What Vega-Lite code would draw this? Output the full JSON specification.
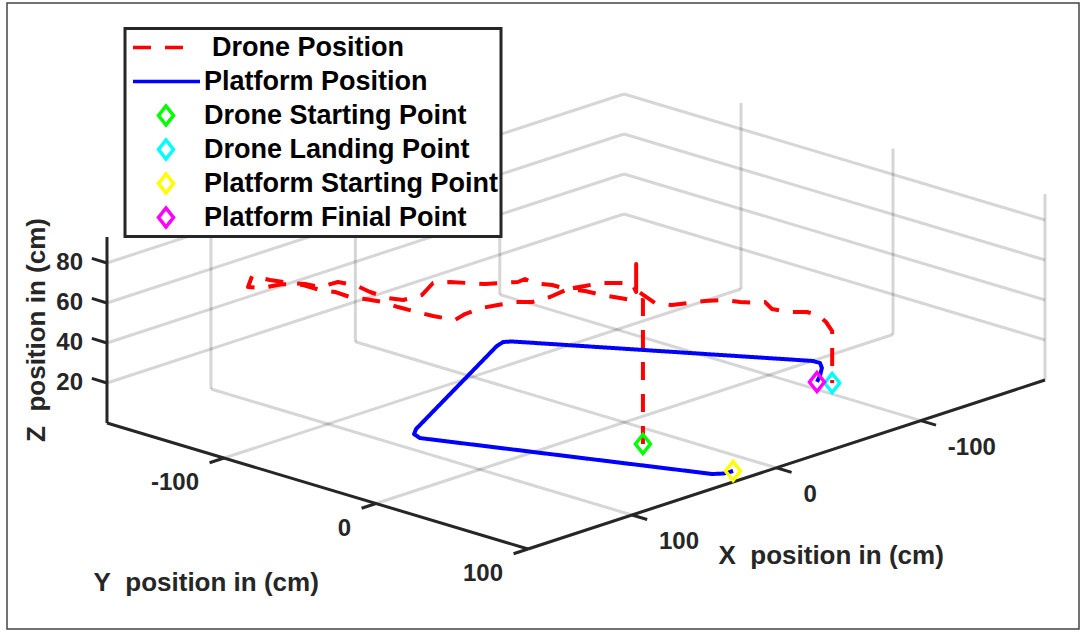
{
  "$schema": "https://vega.github.io/schema/vega-lite/v6.json",
  "width": 1072,
  "height": 626,
  "autosize": "none",
  "padding": {"left": 7, "top": 3, "right": 5, "bottom": 4},
  "background": "#ffffff",
  "config": {
    "view": {"stroke": "#444444", "strokeWidth": 1.5},
    "legend": {
      "orient": "none",
      "legendX": 118,
      "legendY": 25.5,
      "padding": 2,
      "strokeColor": "#262626",
      "fillColor": "#ffffff",
      "labelFont": "Liberation Sans",
      "labelFontWeight": "bold",
      "labelFontSize": 27,
      "labelColor": "#000000",
      "labelLimit": 600,
      "labelOffset": 21,
      "symbolOffset": 22,
      "symbolSize": 900,
      "symbolStrokeWidth": 3.5,
      "symbolOpacity": 1,
      "rowPadding": 0
    }
  },
  "datasets": {
    "grid": [
      {"x": 100, "y": -177, "z": 0, "x2": 100, "y2": 100, "z2": 0},
      {"x": 0, "y": -177, "z": 0, "x2": 0, "y2": 100, "z2": 0},
      {"x": -100, "y": -177, "z": 0, "x2": -100, "y2": 100, "z2": 0},
      {"x": -186, "y": -100, "z": 0, "x2": 172, "y2": -100, "z2": 0},
      {"x": -186, "y": 0, "z": 0, "x2": 172, "y2": 0, "z2": 0},
      {"x": -186, "y": 100, "z": 0, "x2": 172, "y2": 100, "z2": 0},
      {"x": 100, "y": -177, "z": 0, "x2": 100, "y2": -177, "z2": 93},
      {"x": 0, "y": -177, "z": 0, "x2": 0, "y2": -177, "z2": 93},
      {"x": -100, "y": -177, "z": 0, "x2": -100, "y2": -177, "z2": 93},
      {"x": -186, "y": -177, "z": 20, "x2": 172, "y2": -177, "z2": 20},
      {"x": -186, "y": -177, "z": 40, "x2": 172, "y2": -177, "z2": 40},
      {"x": -186, "y": -177, "z": 60, "x2": 172, "y2": -177, "z2": 60},
      {"x": -186, "y": -177, "z": 80, "x2": 172, "y2": -177, "z2": 80},
      {"x": -186, "y": -100, "z": 0, "x2": -186, "y2": -100, "z2": 93},
      {"x": -186, "y": 0, "z": 0, "x2": -186, "y2": 0, "z2": 93},
      {"x": -186, "y": 100, "z": 0, "x2": -186, "y2": 100, "z2": 93},
      {"x": -186, "y": -177, "z": 20, "x2": -186, "y2": 100, "z2": 20},
      {"x": -186, "y": -177, "z": 40, "x2": -186, "y2": 100, "z2": 40},
      {"x": -186, "y": -177, "z": 60, "x2": -186, "y2": 100, "z2": 60},
      {"x": -186, "y": -177, "z": 80, "x2": -186, "y2": 100, "z2": 80}
    ],
    "axes": [
      {"x": 172, "y": -177, "z": 0, "x2": 172, "y2": -177, "z2": 93},
      {"x": 172, "y": -177, "z": 0, "x2": 172, "y2": 100, "z2": 0},
      {"x": 172, "y": 100, "z": 0, "x2": -186, "y2": 100, "z2": 0},
      {"x": 100, "y": 100, "z": 0, "x2": 100, "y2": 110, "z2": 0},
      {"x": 0, "y": 100, "z": 0, "x2": 0, "y2": 110, "z2": 0},
      {"x": -100, "y": 100, "z": 0, "x2": -100, "y2": 110, "z2": 0},
      {"x": 172, "y": -100, "z": 0, "x2": 182, "y2": -100, "z2": 0},
      {"x": 172, "y": 0, "z": 0, "x2": 182, "y2": 0, "z2": 0},
      {"x": 172, "y": 100, "z": 0, "x2": 182, "y2": 100, "z2": 0},
      {"x": 172, "y": -177, "z": 20, "x2": 172, "y2": -187, "z2": 20},
      {"x": 172, "y": -177, "z": 40, "x2": 172, "y2": -187, "z2": 40},
      {"x": 172, "y": -177, "z": 60, "x2": 172, "y2": -187, "z2": 60},
      {"x": 172, "y": -177, "z": 80, "x2": 172, "y2": -187, "z2": 80}
    ],
    "tracks": [
      {"series": "Drone Position", "i": 0, "x": 17.9, "y": 29.2, "z": 0},
      {"series": "Drone Position", "i": 1, "x": 17.9, "y": 29.2, "z": 36},
      {"series": "Drone Position", "i": 2, "x": 17.9, "y": 29.2, "z": 72},
      {"series": "Drone Position", "i": 3, "x": 16.5, "y": 23.9, "z": 70},
      {"series": "Drone Position", "i": 4, "x": 18.9, "y": 15.0, "z": 70},
      {"series": "Drone Position", "i": 5, "x": 21.5, "y": 5.6, "z": 70},
      {"series": "Drone Position", "i": 6, "x": 22.6, "y": -4.3, "z": 70},
      {"series": "Drone Position", "i": 7, "x": 26.1, "y": -12.3, "z": 70},
      {"series": "Drone Position", "i": 8, "x": 40.9, "y": -10.1, "z": 70},
      {"series": "Drone Position", "i": 9, "x": 52.4, "y": -11.0, "z": 70},
      {"series": "Drone Position", "i": 10, "x": 57.9, "y": -16.9, "z": 70},
      {"series": "Drone Position", "i": 11, "x": 67.0, "y": -19.6, "z": 70},
      {"series": "Drone Position", "i": 12, "x": 75.5, "y": -22.0, "z": 70},
      {"series": "Drone Position", "i": 13, "x": 87.9, "y": -21.4, "z": 70},
      {"series": "Drone Position", "i": 14, "x": 97.8, "y": -18.6, "z": 70},
      {"series": "Drone Position", "i": 15, "x": 100.6, "y": -30.3, "z": 70},
      {"series": "Drone Position", "i": 16, "x": 101.6, "y": -40.1, "z": 70},
      {"series": "Drone Position", "i": 17, "x": 102.3, "y": -51.8, "z": 70},
      {"series": "Drone Position", "i": 18, "x": 101.7, "y": -62.2, "z": 70},
      {"series": "Drone Position", "i": 19, "x": 104.4, "y": -71.6, "z": 70},
      {"series": "Drone Position", "i": 20, "x": 107.1, "y": -78.8, "z": 70},
      {"series": "Drone Position", "i": 21, "x": 106.5, "y": -89.3, "z": 70},
      {"series": "Drone Position", "i": 22, "x": 109.3, "y": -96.5, "z": 70},
      {"series": "Drone Position", "i": 23, "x": 109.3, "y": -107.5, "z": 70},
      {"series": "Drone Position", "i": 24, "x": 114.9, "y": -115.5, "z": 70},
      {"series": "Drone Position", "i": 25, "x": 126.3, "y": -118.5, "z": 70},
      {"series": "Drone Position", "i": 26, "x": 129.8, "y": -124.3, "z": 70},
      {"series": "Drone Position", "i": 27, "x": 116.3, "y": -134.5, "z": 70},
      {"series": "Drone Position", "i": 28, "x": 114.8, "y": -124.1, "z": 70},
      {"series": "Drone Position", "i": 29, "x": 111.5, "y": -114.1, "z": 70},
      {"series": "Drone Position", "i": 30, "x": 107.6, "y": -107.9, "z": 70},
      {"series": "Drone Position", "i": 31, "x": 106.0, "y": -99.6, "z": 70},
      {"series": "Drone Position", "i": 32, "x": 94.5, "y": -98.7, "z": 70},
      {"series": "Drone Position", "i": 33, "x": 92.1, "y": -89.7, "z": 70},
      {"series": "Drone Position", "i": 34, "x": 94.9, "y": -77.2, "z": 70},
      {"series": "Drone Position", "i": 35, "x": 95.6, "y": -64.7, "z": 70},
      {"series": "Drone Position", "i": 36, "x": 92.8, "y": -57.4, "z": 70},
      {"series": "Drone Position", "i": 37, "x": 81.1, "y": -56.2, "z": 70},
      {"series": "Drone Position", "i": 38, "x": 64.1, "y": -65.0, "z": 70},
      {"series": "Drone Position", "i": 39, "x": 57.4, "y": -60.2, "z": 70},
      {"series": "Drone Position", "i": 40, "x": 52.8, "y": -53.3, "z": 70},
      {"series": "Drone Position", "i": 41, "x": 48.0, "y": -46.1, "z": 70},
      {"series": "Drone Position", "i": 42, "x": 41.9, "y": -42.0, "z": 70},
      {"series": "Drone Position", "i": 43, "x": 34.9, "y": -36.9, "z": 70},
      {"series": "Drone Position", "i": 44, "x": 29.3, "y": -37.6, "z": 70},
      {"series": "Drone Position", "i": 45, "x": 31.0, "y": -30.6, "z": 70},
      {"series": "Drone Position", "i": 46, "x": 26.9, "y": -22.0, "z": 70},
      {"series": "Drone Position", "i": 47, "x": 26.7, "y": -13.0, "z": 70},
      {"series": "Drone Position", "i": 48, "x": 17.2, "y": -9.6, "z": 70},
      {"series": "Drone Position", "i": 49, "x": 8.8, "y": -7.6, "z": 70},
      {"series": "Drone Position", "i": 50, "x": 2.3, "y": -0.8, "z": 70},
      {"series": "Drone Position", "i": 51, "x": -1.7, "y": 3.4, "z": 70},
      {"series": "Drone Position", "i": 52, "x": 6.8, "y": 14.2, "z": 70},
      {"series": "Drone Position", "i": 53, "x": 6.8, "y": 14.2, "z": 84},
      {"series": "Drone Position", "i": 54, "x": 6.8, "y": 14.2, "z": 71},
      {"series": "Drone Position", "i": 55, "x": 11.2, "y": 30.8, "z": 69.3},
      {"series": "Drone Position", "i": 56, "x": -0.5, "y": 30.8, "z": 65.5},
      {"series": "Drone Position", "i": 57, "x": -16.1, "y": 26.6, "z": 61.9},
      {"series": "Drone Position", "i": 58, "x": -32.2, "y": 22.3, "z": 58.1},
      {"series": "Drone Position", "i": 59, "x": -48.5, "y": 18.9, "z": 54.0},
      {"series": "Drone Position", "i": 60, "x": -60.3, "y": 18.8, "z": 50.2},
      {"series": "Drone Position", "i": 61, "x": -74.0, "y": 17.6, "z": 46.2},
      {"series": "Drone Position", "i": 62, "x": -80.9, "y": 15.7, "z": 44.6},
      {"series": "Drone Position", "i": 63, "x": -79.0, "y": 22.0, "z": 43.0},
      {"series": "Drone Position", "i": 64, "x": -89.0, "y": 23.1, "z": 39.4},
      {"series": "Drone Position", "i": 65, "x": -104.8, "y": 20.5, "z": 35.1},
      {"series": "Drone Position", "i": 66, "x": -110.5, "y": 22.4, "z": 32.7},
      {"series": "Drone Position", "i": 67, "x": -109.3, "y": 28.8, "z": 30.9},
      {"series": "Drone Position", "i": 68, "x": -112.2, "y": 30.1, "z": 26},
      {"series": "Drone Position", "i": 69, "x": -112.2, "y": 30.1, "z": 0},
      {"series": "Platform Position", "i": 0, "x": 17.9, "y": 88.5, "z": 0},
      {"series": "Platform Position", "i": 1, "x": 23.7, "y": 88.0, "z": 0},
      {"series": "Platform Position", "i": 2, "x": 28.1, "y": 84.5, "z": 0},
      {"series": "Platform Position", "i": 3, "x": 85.1, "y": -53.7, "z": 0},
      {"series": "Platform Position", "i": 4, "x": 82.6, "y": -59.9, "z": 0},
      {"series": "Platform Position", "i": 5, "x": 76.4, "y": -64.5, "z": 0},
      {"series": "Platform Position", "i": 6, "x": -42.2, "y": -124.0, "z": 0},
      {"series": "Platform Position", "i": 7, "x": -48.7, "y": -126.0, "z": 0},
      {"series": "Platform Position", "i": 8, "x": -52.2, "y": -123.5, "z": 0},
      {"series": "Platform Position", "i": 9, "x": -130.2, "y": 0.3, "z": 0},
      {"series": "Platform Position", "i": 10, "x": -130.3, "y": 4.9, "z": 0},
      {"series": "Platform Position", "i": 11, "x": -125.4, "y": 10.8, "z": 0},
      {"series": "Platform Position", "i": 12, "x": -115.9, "y": 18.5, "z": 0},
      {"series": "Platform Position", "i": 13, "x": -108.3, "y": 23.8, "z": 0}
    ],
    "markers": [
      {"series": "Drone Starting Point", "x": 17.9, "y": 29.2, "z": 0},
      {"series": "Drone Landing Point", "x": -112.2, "y": 30.1, "z": 0},
      {"series": "Platform Starting Point", "x": 17.9, "y": 88.5, "z": 0},
      {"series": "Platform Finial Point", "x": -108.3, "y": 23.8, "z": 0}
    ],
    "ticks": [
      {"axis": "x", "label": "100", "x": 100, "y": 100, "z": 0},
      {"axis": "x", "label": "0", "x": 0, "y": 100, "z": 0},
      {"axis": "x", "label": "-100", "x": -100, "y": 100, "z": 0},
      {"axis": "y", "label": "-100", "x": 172, "y": -100, "z": 0},
      {"axis": "y", "label": "0", "x": 172, "y": 0, "z": 0},
      {"axis": "y", "label": "100", "x": 172, "y": 100, "z": 0},
      {"axis": "z", "label": "20", "x": 172, "y": -177, "z": 20},
      {"axis": "z", "label": "40", "x": 172, "y": -177, "z": 40},
      {"axis": "z", "label": "60", "x": 172, "y": -177, "z": 60},
      {"axis": "z", "label": "80", "x": 172, "y": -177, "z": 80}
    ],
    "titles": [
      {"axis": "x", "label": "X\u00a0 position in (cm)", "x": -7, "y": 100, "z": 0},
      {"axis": "y", "label": "Y\u00a0 position in (cm)", "x": 172, "y": -38.5, "z": 0},
      {"axis": "z", "label": "Z\u00a0 position in (cm)", "x": 172, "y": -177, "z": 46.5}
    ]
  },
  "layer": [
    {
      "data": {"name": "grid"},
      "transform": [
        {"calculate": "624.4 - 1.4441 * datum.x + 1.5199 * datum.y", "as": "sx"},
        {"calculate": "422.3 + 0.4721 * datum.x + 0.4549 * datum.y - 2 * datum.z", "as": "sy"},
        {"calculate": "624.4 - 1.4441 * datum.x2 + 1.5199 * datum.y2", "as": "sx2"},
        {"calculate": "422.3 + 0.4721 * datum.x2 + 0.4549 * datum.y2 - 2 * datum.z2", "as": "sy2"}
      ],
      "mark": {"type": "rule", "color": "#262626", "strokeOpacity": 0.19, "strokeWidth": 3},
      "encoding": {
        "x": {"field": "sx", "type": "quantitative", "scale": {"domain": [7, 1079], "nice": false, "zero": false}, "axis": null},
        "y": {"field": "sy", "type": "quantitative", "scale": {"domain": [3, 629], "nice": false, "zero": false, "reverse": true}, "axis": null},
        "x2": {"field": "sx2"},
        "y2": {"field": "sy2"}
      }
    },
    {
      "data": {"name": "axes"},
      "transform": [
        {"calculate": "624.4 - 1.4441 * datum.x + 1.5199 * datum.y", "as": "sx"},
        {"calculate": "422.3 + 0.4721 * datum.x + 0.4549 * datum.y - 2 * datum.z", "as": "sy"},
        {"calculate": "624.4 - 1.4441 * datum.x2 + 1.5199 * datum.y2", "as": "sx2"},
        {"calculate": "422.3 + 0.4721 * datum.x2 + 0.4549 * datum.y2 - 2 * datum.z2", "as": "sy2"}
      ],
      "mark": {"type": "rule", "color": "#262626", "strokeWidth": 3},
      "encoding": {
        "x": {"field": "sx", "type": "quantitative", "scale": {"domain": [7, 1079], "nice": false, "zero": false}, "axis": null},
        "y": {"field": "sy", "type": "quantitative", "scale": {"domain": [3, 629], "nice": false, "zero": false, "reverse": true}, "axis": null},
        "x2": {"field": "sx2"},
        "y2": {"field": "sy2"}
      }
    },
    {
      "data": {"name": "tracks"},
      "transform": [
        {"calculate": "624.4 - 1.4441 * datum.x + 1.5199 * datum.y", "as": "sx"},
        {"calculate": "422.3 + 0.4721 * datum.x + 0.4549 * datum.y - 2 * datum.z", "as": "sy"}
      ],
      "mark": {"type": "line", "strokeWidth": 4, "strokeJoin": "round", "strokeCap": "butt"},
      "encoding": {
        "x": {"field": "sx", "type": "quantitative", "scale": {"domain": [7, 1079], "nice": false, "zero": false}, "axis": null},
        "y": {"field": "sy", "type": "quantitative", "scale": {"domain": [3, 629], "nice": false, "zero": false, "reverse": true}, "axis": null},
        "order": {"field": "i", "type": "quantitative"},
        "color": {
          "field": "series", "type": "nominal", "title": null,
          "scale": {
            "domain": ["Drone Position", "Platform Position", "Drone Starting Point", "Drone Landing Point", "Platform Starting Point", "Platform Finial Point"],
            "range": ["#ff0000", "#0000ff", "#00ff00", "#00ffff", "#ffff00", "#ff00ff"]
          },
          "legend": {
            "encode": {
              "legend": {"update": {"strokeWidth": {"value": 3}}},
              "symbols": {"update": {"fill": {"value": "transparent"}, "opacity": {"value": 1}}},
              "labels": {"update": {"dx": {"signal": "datum.value === 'Drone Position' ? 8 : 0"}}}
            }
          }
        },
        "strokeDash": {
          "field": "series", "type": "nominal", "title": null,
          "scale": {
            "domain": ["Drone Position", "Platform Position", "Drone Starting Point", "Drone Landing Point", "Platform Starting Point", "Platform Finial Point"],
            "range": [[18, 14], [1, 0], [1, 0], [1, 0], [1, 0], [1, 0]]
          }
        }
      }
    },
    {
      "data": {"name": "markers"},
      "transform": [
        {"calculate": "624.4 - 1.4441 * datum.x + 1.5199 * datum.y", "as": "sx"},
        {"calculate": "422.3 + 0.4721 * datum.x + 0.4549 * datum.y - 2 * datum.z", "as": "sy"}
      ],
      "mark": {"type": "point", "filled": false, "size": 900, "strokeWidth": 3.5, "opacity": 1},
      "encoding": {
        "x": {"field": "sx", "type": "quantitative", "scale": {"domain": [7, 1079], "nice": false, "zero": false}, "axis": null},
        "y": {"field": "sy", "type": "quantitative", "scale": {"domain": [3, 629], "nice": false, "zero": false, "reverse": true}, "axis": null},
        "color": {
          "field": "series", "type": "nominal", "title": null,
          "scale": {
            "domain": ["Drone Position", "Platform Position", "Drone Starting Point", "Drone Landing Point", "Platform Starting Point", "Platform Finial Point"],
            "range": ["#ff0000", "#0000ff", "#00ff00", "#00ffff", "#ffff00", "#ff00ff"]
          }
        },
        "shape": {
          "field": "series", "type": "nominal", "title": null,
          "scale": {
            "domain": ["Drone Position", "Platform Position", "Drone Starting Point", "Drone Landing Point", "Platform Starting Point", "Platform Finial Point"],
            "range": ["M0,-0.633M0,0.633M-2.2,0H1.133", "M0,-0.633M0,0.633M-2.2,0H2.267", "M0,-0.633L0.5,0L0,0.633L-0.5,0Z", "M0,-0.633L0.5,0L0,0.633L-0.5,0Z", "M0,-0.633L0.5,0L0,0.633L-0.5,0Z", "M0,-0.633L0.5,0L0,0.633L-0.5,0Z"]
          }
        }
      }
    },
    {
      "data": {"name": "ticks"},
      "transform": [
        {"filter": "datum.axis === 'x'"},
        {"calculate": "624.4 - 1.4441 * datum.x + 1.5199 * datum.y", "as": "sx"},
        {"calculate": "422.3 + 0.4721 * datum.x + 0.4549 * datum.y - 2 * datum.z", "as": "sy"}
      ],
      "mark": {"type": "text", "align": "left", "baseline": "middle", "dx": 27, "dy": 27, "font": "Liberation Sans", "fontWeight": "bold", "fontSize": 24, "color": "#262626"},
      "encoding": {
        "x": {"field": "sx", "type": "quantitative", "scale": {"domain": [7, 1079], "nice": false, "zero": false}, "axis": null},
        "y": {"field": "sy", "type": "quantitative", "scale": {"domain": [3, 629], "nice": false, "zero": false, "reverse": true}, "axis": null},
        "text": {"field": "label"}
      }
    },
    {
      "data": {"name": "ticks"},
      "transform": [
        {"filter": "datum.axis === 'y'"},
        {"calculate": "624.4 - 1.4441 * datum.x + 1.5199 * datum.y", "as": "sx"},
        {"calculate": "422.3 + 0.4721 * datum.x + 0.4549 * datum.y - 2 * datum.z", "as": "sy"}
      ],
      "mark": {"type": "text", "align": "right", "baseline": "middle", "dx": -25, "dy": 25, "font": "Liberation Sans", "fontWeight": "bold", "fontSize": 24, "color": "#262626"},
      "encoding": {
        "x": {"field": "sx", "type": "quantitative", "scale": {"domain": [7, 1079], "nice": false, "zero": false}, "axis": null},
        "y": {"field": "sy", "type": "quantitative", "scale": {"domain": [3, 629], "nice": false, "zero": false, "reverse": true}, "axis": null},
        "text": {"field": "label"}
      }
    },
    {
      "data": {"name": "ticks"},
      "transform": [
        {"filter": "datum.axis === 'z'"},
        {"calculate": "624.4 - 1.4441 * datum.x + 1.5199 * datum.y", "as": "sx"},
        {"calculate": "422.3 + 0.4721 * datum.x + 0.4549 * datum.y - 2 * datum.z", "as": "sy"}
      ],
      "mark": {"type": "text", "align": "right", "baseline": "middle", "dx": -24, "dy": 0, "font": "Liberation Sans", "fontWeight": "bold", "fontSize": 24, "color": "#262626"},
      "encoding": {
        "x": {"field": "sx", "type": "quantitative", "scale": {"domain": [7, 1079], "nice": false, "zero": false}, "axis": null},
        "y": {"field": "sy", "type": "quantitative", "scale": {"domain": [3, 629], "nice": false, "zero": false, "reverse": true}, "axis": null},
        "text": {"field": "label"}
      }
    },
    {
      "data": {"name": "titles"},
      "transform": [
        {"filter": "datum.axis === 'x'"},
        {"calculate": "624.4 - 1.4441 * datum.x + 1.5199 * datum.y", "as": "sx"},
        {"calculate": "422.3 + 0.4721 * datum.x + 0.4549 * datum.y - 2 * datum.z", "as": "sy"}
      ],
      "mark": {"type": "text", "align": "left", "baseline": "middle", "dx": -68, "dy": 92, "font": "Liberation Sans", "fontWeight": "bold", "fontSize": 26, "color": "#262626"},
      "encoding": {
        "x": {"field": "sx", "type": "quantitative", "scale": {"domain": [7, 1079], "nice": false, "zero": false}, "axis": null},
        "y": {"field": "sy", "type": "quantitative", "scale": {"domain": [3, 629], "nice": false, "zero": false, "reverse": true}, "axis": null},
        "text": {"field": "label"}
      }
    },
    {
      "data": {"name": "titles"},
      "transform": [
        {"filter": "datum.axis === 'y'"},
        {"calculate": "624.4 - 1.4441 * datum.x + 1.5199 * datum.y", "as": "sx"},
        {"calculate": "422.3 + 0.4721 * datum.x + 0.4549 * datum.y - 2 * datum.z", "as": "sy"}
      ],
      "mark": {"type": "text", "align": "left", "baseline": "middle", "dx": -224, "dy": 97, "font": "Liberation Sans", "fontWeight": "bold", "fontSize": 26, "color": "#262626"},
      "encoding": {
        "x": {"field": "sx", "type": "quantitative", "scale": {"domain": [7, 1079], "nice": false, "zero": false}, "axis": null},
        "y": {"field": "sy", "type": "quantitative", "scale": {"domain": [3, 629], "nice": false, "zero": false, "reverse": true}, "axis": null},
        "text": {"field": "label"}
      }
    },
    {
      "data": {"name": "titles"},
      "transform": [
        {"filter": "datum.axis === 'z'"},
        {"calculate": "624.4 - 1.4441 * datum.x + 1.5199 * datum.y", "as": "sx"},
        {"calculate": "422.3 + 0.4721 * datum.x + 0.4549 * datum.y - 2 * datum.z", "as": "sy"}
      ],
      "mark": {"type": "text", "align": "center", "baseline": "middle", "angle": 270, "dx": 0, "dy": -70, "font": "Liberation Sans", "fontWeight": "bold", "fontSize": 26, "color": "#262626"},
      "encoding": {
        "x": {"field": "sx", "type": "quantitative", "scale": {"domain": [7, 1079], "nice": false, "zero": false}, "axis": null},
        "y": {"field": "sy", "type": "quantitative", "scale": {"domain": [3, 629], "nice": false, "zero": false, "reverse": true}, "axis": null},
        "text": {"field": "label"}
      }
    }
  ]
}
